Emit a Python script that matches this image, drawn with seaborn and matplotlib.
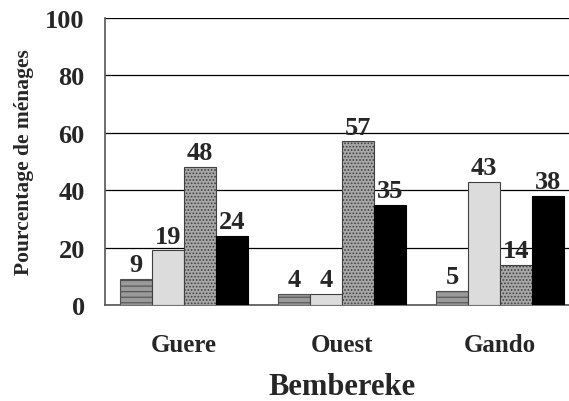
import matplotlib
matplotlib.use('Agg')
import matplotlib.pyplot as plt
import seaborn as sns
import pandas as pd

# données
zones = ["Guere", "Ouest", "Gando"]
serie_1 = [9, 4, 5]
serie_2 = [19, 4, 43]
serie_3 = [48, 57, 14]
serie_4 = [24, 35, 38]
series = ["Série 1", "Série 2", "Série 3", "Série 4"]
y_ticks = [0, 20, 40, 60, 80, 100]

rows = []
for nom, vals in zip(series, [serie_1, serie_2, serie_3, serie_4]):
    for z, v in zip(zones, vals):
        rows.append({"zone": z, "serie": nom, "pct": v})
df = pd.DataFrame(rows)

sns.set_style("white")
plt.rcParams['font.family'] = ['Liberation Serif', 'DejaVu Serif']
plt.rcParams['font.weight'] = 'bold'
plt.rcParams['hatch.linewidth'] = 0.8

fig = plt.figure(figsize=(5.69, 4.02), dpi=100)
# l'axe continue au-delà du bord droit de la figure
ax = fig.add_axes([105 / 569, 1 - 306 / 402, 474 / 569, 287 / 402])

sns.barplot(data=df, x="zone", y="pct", hue="serie", order=zones, hue_order=series,
            width=0.81, gap=0, dodge=True, legend=False, ax=ax, zorder=3)

styles = [
    dict(facecolor='#9a9a9a', hatch='---', edgecolor='#505050'),
    dict(facecolor='#dcdcdc', hatch=None, edgecolor='#404040'),
    dict(facecolor='#a8a8a8', hatch='.....', edgecolor='#404040'),
    dict(facecolor='black', hatch=None, edgecolor='black'),
]
for cont, st in zip(ax.containers, styles):
    for bar in cont:
        bar.set_facecolor(st['facecolor'])
        bar.set_edgecolor(st['edgecolor'])
        bar.set_linewidth(0.8)
        if st['hatch']:
            bar.set_hatch(st['hatch'])
    ax.bar_label(cont, fmt='%d', padding=2, fontsize=19, fontweight='bold')

ax.set_ylim(0, 100)
ax.set_xlim(-0.5, 2.5)
ax.set_yticks(y_ticks)
ax.yaxis.grid(True, color='black', linewidth=0.9, zorder=0)
ax.set_axisbelow(True)
for s in ['top', 'right']:
    ax.spines[s].set_visible(False)
for s in ['left', 'bottom']:
    ax.spines[s].set_color('#555555')
    ax.spines[s].set_linewidth(1.2)

ax.set_xticks([0, 1, 2])
ax.set_xticklabels(zones)
ax.set_xticks([-0.5, 0.5, 1.5], minor=True)
ax.tick_params(axis='x', which='major', length=0, pad=20, labelsize=18)
ax.tick_params(axis='x', which='minor', length=7, direction='out', color='#555555')
ax.tick_params(axis='y', length=9, direction='inout', labelsize=19, pad=10, color='#555555')
for lab in ax.get_xticklabels() + ax.get_yticklabels():
    lab.set_fontweight('bold')

ax.set_xlabel("Bembereke", fontsize=22, fontweight='bold', labelpad=12)
ax.set_ylabel("Pourcentage de ménages", fontsize=15.5, fontweight='bold', labelpad=8)

fig.savefig('out.png', dpi=100)
